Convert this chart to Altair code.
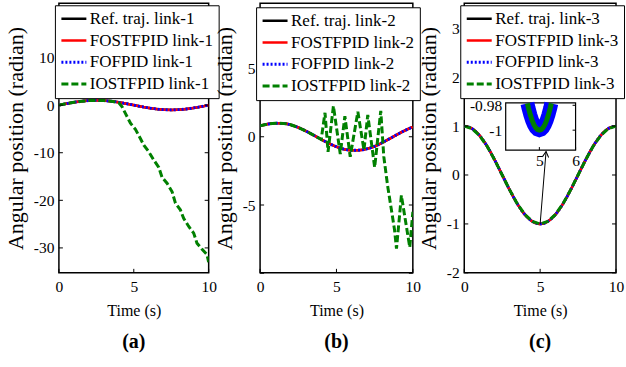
import altair as alt
import pandas as pd

FONT = "Liberation Serif"
MINUS_FIX = "replace(datum.label, '\u2212', '-')"

# ---------------- data ----------------
t_grid = [0.0, 0.5, 1.0, 1.5, 2.0, 2.5, 3.0, 3.5, 4.0, 4.5, 5.0,
          5.5, 6.0, 6.5, 7.0, 7.5, 8.0, 8.5, 9.0, 9.5, 10.0]

# link-1
ref1 = [0.0, 0.31, 0.59, 0.81, 0.95, 1.0, 0.95, 0.81, 0.59, 0.31, 0.0,
        -0.31, -0.59, -0.81, -0.95, -1.0, -0.95, -0.81, -0.59, -0.31, 0.0]
fost1 = [0.0, 0.31, 0.59, 0.81, 0.95, 1.0, 0.95, 0.81, 0.59, 0.31, 0.0,
         -0.31, -0.59, -0.81, -0.95, -1.0, -0.95, -0.81, -0.59, -0.31, 0.0]
fof1 = [0.0, 0.31, 0.59, 0.81, 0.95, 1.0, 0.95, 0.81, 0.59, 0.31, 0.0,
        -0.31, -0.59, -0.81, -0.95, -1.0, -0.95, -0.81, -0.59, -0.31, 0.0]
iost1_t = [0.0, 0.5, 1.0, 1.5, 2.0, 2.5, 3.0, 3.5, 4.0, 4.22, 4.44, 4.78, 5.11,
           5.44, 5.67, 6.0, 6.33, 6.67, 6.89, 7.22, 7.56, 7.78, 8.11, 8.33,
           8.67, 9.0, 9.22, 9.56, 9.89, 10.0]
iost1 = [0.0, 0.31, 0.59, 0.81, 0.95, 1.0, 0.95, 0.81, 0.5, -0.35, -1.75, -3.8,
         -5.1, -7.0, -8.4, -9.8, -11.5, -13.1, -15.2, -16.4, -18.2, -20.6,
         -22.0, -23.8, -25.5, -26.9, -29.0, -30.3, -31.4, -33.0]

# link-2
ref2 = [0.8, 0.93, 0.99, 0.98, 0.88, 0.68, 0.42, 0.12, -0.19, -0.48, -0.73,
        -0.91, -0.99, -0.98, -0.88, -0.7, -0.43, -0.13, 0.18, 0.47, 0.72]
fost2 = [0.8, 0.93, 0.99, 0.98, 0.88, 0.68, 0.42, 0.12, -0.19, -0.48, -0.73,
         -0.91, -0.99, -0.98, -0.88, -0.7, -0.43, -0.13, 0.18, 0.47, 0.72]
fof2 = [0.8, 0.93, 0.99, 0.98, 0.88, 0.68, 0.42, 0.12, -0.19, -0.48, -0.73,
        -0.91, -0.99, -0.98, -0.88, -0.7, -0.43, -0.13, 0.18, 0.47, 0.72]
iost2_t = [0.0, 0.5, 1.0, 1.5, 2.0, 2.5, 3.0, 3.5, 4.0, 4.25, 4.45, 4.8, 5.25,
           5.55, 5.9, 6.4, 6.8, 7.05, 7.5, 7.9, 8.1, 8.35, 8.8, 8.93, 9.25,
           9.8, 10.0]
iost2 = [0.8, 0.93, 0.99, 0.98, 0.88, 0.68, 0.42, 0.12, -0.19, 1.76, -1.1,
         2.25, -1.27, 1.5, -1.46, 1.83, -0.97, 1.6, -2.24, 1.9, -1.46, -3.6,
         -6.8, -8.2, -4.3, -8.1, -5.5]

# link-3
ref3 = [1.0, 0.95, 0.81, 0.59, 0.31, 0.0, -0.31, -0.59, -0.81, -0.95, -1.0,
        -0.95, -0.81, -0.59, -0.31, 0.0, 0.31, 0.59, 0.81, 0.95, 1.0]
fost3 = [1.0, 0.95, 0.81, 0.59, 0.31, 0.0, -0.31, -0.59, -0.81, -0.95, -1.0,
         -0.95, -0.81, -0.59, -0.31, 0.0, 0.31, 0.59, 0.81, 0.95, 1.0]
fof3 = [1.0, 0.95, 0.81, 0.59, 0.31, 0.0, -0.31, -0.59, -0.81, -0.95, -1.0,
        -0.95, -0.81, -0.59, -0.31, 0.0, 0.31, 0.59, 0.81, 0.95, 1.0]
iost3 = [1.0, 0.95, 0.81, 0.59, 0.31, 0.0, -0.31, -0.59, -0.81, -0.95, -1.0,
         -0.95, -0.81, -0.59, -0.31, 0.0, 0.31, 0.59, 0.81, 0.95, 1.0]

# zoomed inset of link-3 near t = 5
inset_t = [4.67, 4.7, 4.75, 4.8, 4.85, 4.9, 4.95, 5.0, 5.05, 5.1, 5.15,
           5.2, 5.25, 5.3, 5.33]
inset_fof = [-0.9785, -0.9822, -0.9877, -0.9921, -0.9956, -0.998, -0.9995,
             -1.0, -0.9995, -0.998, -0.9956, -0.9921, -0.9877, -0.9822, -0.9785]
inset_iost = [-0.9785, -0.9822, -0.9877, -0.9921, -0.9956, -0.998, -0.9995,
              -1.0, -0.9995, -0.998, -0.9956, -0.9921, -0.9877, -0.9822, -0.9785]
inset_xdomain = [4.07, 6.0]
inset_ydomain = [-1.016, -0.978]
inset_xticks = [5, 6]
inset_yticks = [-1, -0.98]

# arrow from the minimum to the inset (main link-3 data coordinates)
arrow_t = [5.0, 5.39]
arrow_v = [-1.0, 0.48]

x_ticks = [0, 5, 10]
y_ticks_a = [-30, -20, -10, 0, 10]
y_ticks_b = [-10, -5, 0, 5]
y_ticks_c = [-2, -1, 0, 1, 2, 3]

prefixes = ["Ref. traj. link-", "FOSTFPID link-", "FOFPID link-", "IOSTFPID link-"]
COLORS = ["#000000", "#ff0000", "#0000ff", "#008000"]
DASHES = [[1, 0], [1, 0], [2, 2], [7, 3]]
WIDTHS = [2.5, 3.0, 2.5, 3.5]

H = 270


def make_panel(idx, W, ydom, yticks, curves, lx, ly):
    names = [p + str(idx) for p in prefixes]
    rows = []
    for name, (ts, vs) in zip(names, curves):
        for tt, vv in zip(ts, vs):
            rows.append({"t": tt, "v": vv, "series": name})
    df = pd.DataFrame(rows)

    xs = alt.Scale(domain=[0, 10], nice=False, zero=False)
    ys = alt.Scale(domain=ydom, nice=False, zero=False)
    xaxis = alt.Axis(values=x_ticks, title="Time (s)", grid=False, domain=False,
                     ticks=False, labelPadding=7, labelFlush=False,
                     titlePadding=7)
    yaxis = alt.Axis(values=yticks, title="Angular position (radian)",
                     grid=False, domain=False, ticks=False, labelPadding=5,
                     labelFlush=False, titlePadding=6, labelExpr=MINUS_FIX)
    leg = alt.Legend(title=None, orient="none", legendX=lx, legendY=ly,
                     symbolType="stroke", symbolSize=625, labelFont=FONT,
                     labelFontSize=17, labelColor="black", fillColor="white",
                     strokeColor="black", padding=5, rowPadding=3.8,
                     clipHeight=17, labelOffset=2, labelLimit=0)
    cs = alt.Scale(domain=names, range=COLORS)
    ds = alt.Scale(domain=names, range=DASHES)
    ws = alt.Scale(domain=names, range=WIDTHS)
    X = alt.X("t:Q", scale=xs, axis=xaxis)
    Y = alt.Y("v:Q", scale=ys, axis=yaxis)

    layers = []
    for k, name in enumerate(names):
        interp = "linear" if k == 3 else "monotone"
        layers.append(
            alt.Chart(df)
            .transform_filter(alt.datum.series == name)
            .mark_line(interpolate=interp, clip=True, strokeCap="butt")
            .encode(
                x=X, y=Y,
                color=alt.Color("series:N", scale=cs, legend=leg),
                strokeDash=alt.StrokeDash("series:N", scale=ds, legend=leg),
                strokeWidth=alt.StrokeWidth("series:N", scale=ws, legend=leg),
            )
        )
    xt = pd.DataFrame({"t": x_ticks})
    yt = pd.DataFrame({"v": yticks})
    layers.append(alt.Chart(xt).mark_rule(color="black", strokeWidth=1).encode(
        x=X, y=alt.value(H), y2=alt.value(H - 4)))
    layers.append(alt.Chart(yt).mark_rule(color="black", strokeWidth=1).encode(
        y=Y, x=alt.value(0), x2=alt.value(4)))
    layers.append(alt.Chart(yt).mark_rule(color="black", strokeWidth=1).encode(
        y=Y, x=alt.value(W), x2=alt.value(W - 4)))
    return layers, X, Y


title_kw = dict(orient="bottom", font=FONT, fontSize=20, fontWeight="bold",
                anchor="middle", offset=14, color="black")

# panel a
la, _, _ = make_panel(1, 150, [-35.24, 21.4], y_ticks_a,
                      [(t_grid, ref1), (t_grid, fost1), (t_grid, fof1), (iost1_t, iost1)],
                      -4, 2)
pa = alt.layer(*la).properties(width=150, height=H,
                               title=alt.TitleParams("(a)", **title_kw))

# panel b
lb, _, _ = make_panel(2, 153, [-9.97, 9.78], y_ticks_b,
                      [(t_grid, ref2), (t_grid, fost2), (t_grid, fof2), (iost2_t, iost2)],
                      -4, 4)
pb = alt.layer(*lb).properties(width=153, height=H,
                               title=alt.TitleParams("(b)", **title_kw))

# panel c
lc, Xc, Yc = make_panel(3, 152, [-2, 3.51], y_ticks_c,
                        [(t_grid, ref3), (t_grid, fost3), (t_grid, fof3), (t_grid, iost3)],
                        -4, 2)
arrow_df = pd.DataFrame({"t": [arrow_t[0]], "v": [arrow_v[0]],
                         "t2": [arrow_t[1]], "v2": [arrow_v[1]]})
arrow_line = alt.Chart(arrow_df).mark_rule(color="black", strokeWidth=1).encode(
    x=Xc, y=Yc, x2="t2:Q", y2="v2:Q")
arrow_head = alt.Chart(arrow_df).transform_calculate(
    t=alt.datum.t2, v=alt.datum.v2
).mark_point(
    shape="M-0.5,0.9L0,0L0.5,0.9", filled=False, color="black", strokeWidth=1,
    size=160, angle=5.6, opacity=1).encode(x=Xc, y=Yc)
main_c = alt.layer(*lc, arrow_line, arrow_head)

ixs = alt.Scale(domain=inset_xdomain, range=[41.5, 111.5], nice=False, zero=False)
iys = alt.Scale(domain=inset_ydomain, range=[147, 99.7], nice=False, zero=False)
ix_axis = alt.Axis(orient="bottom", offset=-123, values=inset_xticks, title=None,
                   grid=False, domain=False, ticks=False, labelPadding=3,
                   labelFlush=False)
iy_axis = alt.Axis(orient="left", offset=-41.5, values=inset_yticks, title=None,
                   grid=False, domain=False, ticks=False, labelPadding=4,
                   labelFlush=False, format="~g", labelExpr=MINUS_FIX)
IX = alt.X("t:Q", scale=ixs, axis=ix_axis)
IY = alt.Y("v:Q", scale=iys, axis=iy_axis)

inset_rows = []
for tt, a, b in zip(inset_t, inset_fof, inset_iost):
    inset_rows.append({"t": tt, "v": a, "s": "fof"})
    inset_rows.append({"t": tt, "v": b, "s": "iost"})
inset_df = pd.DataFrame(inset_rows)
box_df = pd.DataFrame({"t": [inset_xdomain[0]], "t2": [inset_xdomain[1]],
                       "v": [inset_ydomain[0]], "v2": [inset_ydomain[1]]})
inset_box = alt.Chart(box_df).mark_rect(fill="white", stroke="black",
                                        strokeWidth=1.2).encode(
    x=IX, x2="t2:Q", y=IY, y2="v2:Q")
inset_blue = alt.Chart(inset_df).transform_filter(alt.datum.s == "fof").mark_line(
    color="#0000ff", strokeWidth=14, strokeCap="butt").encode(x=IX, y=IY)
inset_green = alt.Chart(inset_df).transform_filter(alt.datum.s == "iost").mark_line(
    color="#008000", strokeWidth=5, strokeCap="butt").encode(x=IX, y=IY)
ixt = pd.DataFrame({"t": inset_xticks})
iyt = pd.DataFrame({"v": inset_yticks})
inset_ticks_x = alt.Chart(ixt).mark_rule(color="black", strokeWidth=1).encode(
    x=IX, y=alt.value(147), y2=alt.value(144))
inset_ticks_y = alt.Chart(iyt).mark_rule(color="black", strokeWidth=1).encode(
    y=IY, x=alt.value(108.5), x2=alt.value(111.5))
inset_c = alt.layer(inset_box, inset_blue, inset_green, inset_ticks_x, inset_ticks_y)

pc = alt.layer(main_c, inset_c).resolve_scale(x="independent", y="independent").properties(
    width=152, height=H, title=alt.TitleParams("(c)", **title_kw))

chart = alt.hconcat(pa, pb, pc, spacing=51.5, bounds="flush").resolve_scale(
    color="independent", strokeDash="independent", strokeWidth="independent"
).resolve_legend(
    color="independent", strokeDash="independent", strokeWidth="independent"
).properties(
    padding={"left": 3, "top": 2, "right": 0, "bottom": 0},
    background="white",
).configure_view(stroke="black", strokeWidth=1.5).configure_axis(
    labelFont=FONT, labelFontSize=15.5, labelColor="black",
    titleFont=FONT, titleFontSize=22, titleFontWeight="normal", titleColor="black"
).configure_axisX(titleFontSize=16)

chart.save("out.html", embed_options={"renderer": "svg", "actions": False})
